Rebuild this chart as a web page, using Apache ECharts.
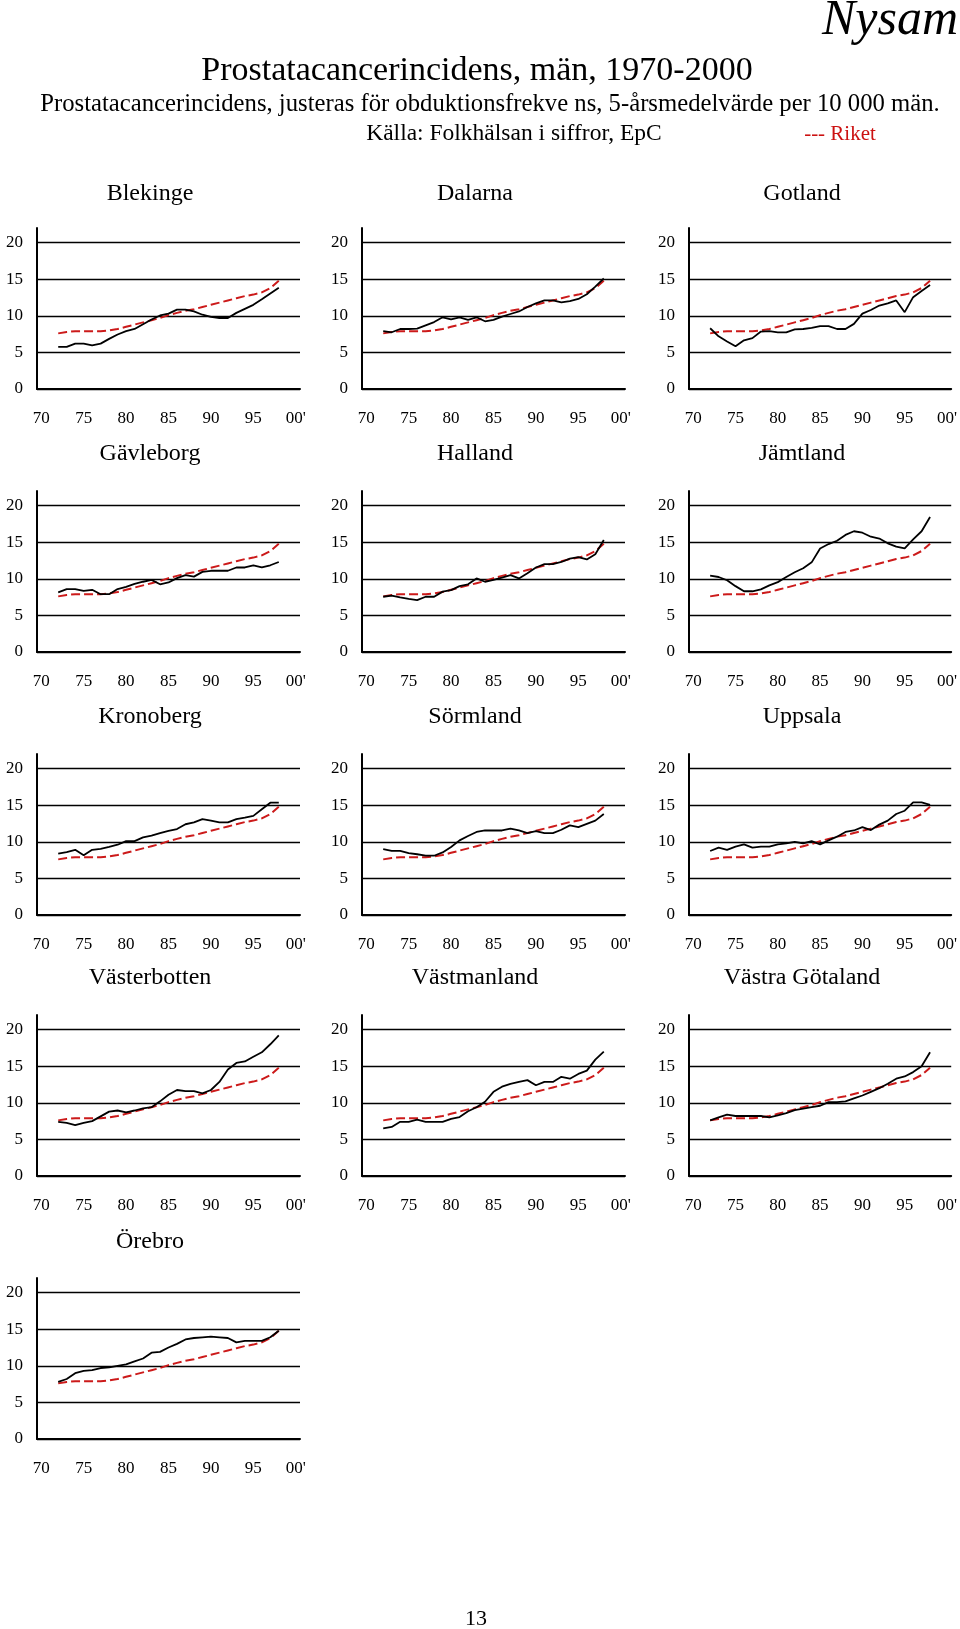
<!DOCTYPE html>
<html>
<head>
<meta charset="utf-8">
<script src="https://cdn.jsdelivr.net/npm/echarts@6/dist/echarts.min.js"></script>
<style>
  html, body { margin: 0; padding: 0; background: #fff; }
  #chart { width: 960px; height: 1629px; }
</style>
</head>
<body>
<div id="chart"></div>
<script>
// ---- Data ----
const categories = ['1970','1971','1972','1973','1974','1975','1976','1977','1978','1979',
  '1980','1981','1982','1983','1984','1985','1986','1987','1988','1989',
  '1990','1991','1992','1993','1994','1995','1996','1997','1998','1999','2000'];
const xTickLabels = ['70','75','80','85','90','95',"00'"];
const yTickValues = [0, 5, 10, 15, 20];
const firstDataYear = '1972';

const panelNames = ['Blekinge','Dalarna','Gotland','Gävleborg','Halland','Jämtland',
  'Kronoberg','Sörmland','Uppsala','Västerbotten','Västmanland','Västra Götaland','Örebro'];

// Riket (national), 1972-1998
const riket = [7.6,7.8,7.9,7.9,7.9,7.9,8.0,8.2,8.5,8.8,9.1,9.4,9.7,10.1,10.4,10.7,10.9,11.2,11.5,11.8,12.1,12.4,12.7,12.9,13.2,13.8,14.8];

// Counties, 1972-1998
const blekinge = [5.75,5.75,6.2,6.2,5.95,6.2,6.85,7.45,7.9,8.2,8.85,9.5,10.05,10.3,10.85,10.85,10.6,10.15,9.85,9.7,9.7,10.4,10.95,11.5,12.25,13.05,13.85];
const dalarna = [7.9,7.75,8.2,8.2,8.25,8.7,9.15,9.8,9.5,9.8,9.45,9.8,9.25,9.45,9.9,10.25,10.6,11.2,11.7,12.1,12.1,11.85,12.0,12.3,12.95,14.0,15.1];
const gotland = [8.3,7.2,6.5,5.85,6.65,6.95,7.85,7.9,7.75,7.75,8.15,8.2,8.35,8.6,8.6,8.2,8.2,8.9,10.3,10.8,11.4,11.7,12.1,10.5,12.55,13.4,14.2];
const gavleborg = [8.15,8.6,8.6,8.35,8.5,7.9,7.9,8.6,8.9,9.3,9.6,9.85,9.25,9.5,10.1,10.5,10.3,10.95,11.1,11.1,11.1,11.55,11.55,11.85,11.55,11.85,12.3];
const halland = [7.55,7.7,7.45,7.25,7.1,7.55,7.55,8.25,8.45,9.0,9.25,10.05,9.6,9.85,10.15,10.5,10.05,10.75,11.55,12.0,12.0,12.3,12.75,12.95,12.65,13.35,15.3];
const jamtland = [10.45,10.25,9.8,9.0,8.3,8.3,8.55,9.1,9.55,10.25,10.9,11.45,12.25,14.15,14.75,15.2,16.0,16.5,16.3,15.75,15.5,14.85,14.4,14.15,15.4,16.5,18.45];
const kronoberg = [8.4,8.6,8.9,8.15,8.9,9.05,9.3,9.6,10.1,10.1,10.6,10.85,11.2,11.5,11.75,12.4,12.65,13.1,12.9,12.65,12.65,13.1,13.3,13.55,14.45,15.35,15.35];
const sormland = [9.0,8.75,8.75,8.45,8.3,8.1,8.1,8.55,9.3,10.2,10.8,11.35,11.55,11.55,11.55,11.8,11.55,11.2,11.45,11.2,11.2,11.65,12.25,12.0,12.45,12.9,13.8];
const uppsala = [8.75,9.2,8.9,9.35,9.65,9.2,9.35,9.35,9.65,9.8,10.0,9.8,10.1,9.65,10.2,10.7,11.35,11.55,12.0,11.6,12.35,12.9,13.8,14.25,15.4,15.4,15.05];
const vasterbotten = [7.4,7.25,6.95,7.25,7.5,8.15,8.8,8.95,8.7,8.95,9.25,9.4,10.2,11.1,11.75,11.6,11.6,11.3,11.75,12.85,14.55,15.45,15.65,16.3,16.9,18.0,19.2];
const vastmanland = [6.5,6.7,7.4,7.4,7.7,7.4,7.4,7.4,7.8,8.05,8.85,9.4,10.15,11.5,12.2,12.6,12.85,13.1,12.4,12.85,12.85,13.55,13.3,13.95,14.4,15.9,17.0];
const vastraGotaland = [7.6,8.0,8.4,8.2,8.2,8.2,8.2,8.0,8.3,8.6,9.0,9.2,9.4,9.6,10.1,10.1,10.2,10.6,11.0,11.5,12.0,12.6,13.3,13.6,14.2,15.0,16.9];
const orebro = [7.8,8.2,9.0,9.3,9.4,9.7,9.8,10.0,10.2,10.6,11.0,11.8,11.9,12.5,13.0,13.6,13.8,13.9,14.0,13.9,13.8,13.2,13.4,13.4,13.4,13.9,14.8];

const countySeries = [blekinge, dalarna, gotland, gavleborg, halland, jamtland,
  kronoberg, sormland, uppsala, vasterbotten, vastmanland, vastraGotaland, orebro];

// ---- Layout ----
const FONT = "'Liberation Serif', 'Times New Roman', serif";
const colLefts = [37, 362, 689];
const rowTops = [228, 491, 754, 1015, 1278];
const titleOffsets = [34, 37, 37, 37, 36];
const gridW = 263, gridH = 161;

function pad(arr) {
  const start = categories.indexOf(firstDataYear);
  return categories.map((c, i) => {
    const k = i - start;
    return (k >= 0 && k < arr.length) ? arr[k] : null;
  });
}

const grids = [], xAxes = [], yAxes = [], series = [], graphics = [];

panelNames.forEach((name, i) => {
  const r = Math.floor(i / 3), c = i % 3;
  const left = colLefts[c], top = rowTops[r];
  grids.push({ left: left, top: top, width: gridW, height: gridH });
  xAxes.push({
    type: 'category', gridIndex: i, data: categories, boundaryGap: true,
    axisLine: { show: true, onZero: true, lineStyle: { color: '#000', width: 2 } },
    axisTick: { show: false },
    axisLabel: {
      interval: 4, margin: 21, color: '#000', fontFamily: FONT, fontSize: 17,
      formatter: (v, idx) => xTickLabels[idx / 5]
    },
    splitLine: { show: false }
  });
  yAxes.push({
    type: 'value', gridIndex: i, min: 0, max: 22,
    axisLine: { show: true, lineStyle: { color: '#000', width: 2 } },
    axisTick: { show: false, customValues: yTickValues },
    axisLabel: { color: '#000', fontFamily: FONT, fontSize: 17, margin: 14, customValues: yTickValues },
    splitLine: { show: true, lineStyle: { color: '#000', width: 1.3 } }
  });
  series.push({
    type: 'line', xAxisIndex: i, yAxisIndex: i, data: pad(riket),
    showSymbol: false, symbol: 'none', silent: true, z: 2,
    lineStyle: { color: '#cc1a1a', width: 2, type: [9, 4] }
  });
  series.push({
    type: 'line', xAxisIndex: i, yAxisIndex: i, data: pad(countySeries[i]),
    showSymbol: false, symbol: 'none', silent: true, z: 3,
    lineStyle: { color: '#000', width: 1.8 }
  });
  graphics.push({
    type: 'text', x: left + 113, y: top - titleOffsets[r],
    style: { text: name, fill: '#000', font: '24px ' + FONT, textAlign: 'center', textVerticalAlign: 'middle' }
  });
});

graphics.push(
  { type: 'text', x: 958, y: 21, style: { text: 'Nysam', fill: '#000', font: 'italic 50px ' + FONT, textAlign: 'right', textVerticalAlign: 'middle' } },
  { type: 'text', x: 477, y: 71, style: { text: 'Prostatacancerincidens, män, 1970-2000', fill: '#000', font: '34px ' + FONT, textAlign: 'center', textVerticalAlign: 'middle' } },
  { type: 'text', x: 490, y: 105, style: { text: 'Prostatacancerincidens, justeras för obduktionsfrekve ns, 5-årsmedelvärde per 10 000 män.', fill: '#000', font: '24.7px ' + FONT, textAlign: 'center', textVerticalAlign: 'middle' } },
  { type: 'text', x: 514, y: 134, style: { text: 'Källa: Folkhälsan i siffror, EpC', fill: '#000', font: '23.5px ' + FONT, textAlign: 'center', textVerticalAlign: 'middle' } },
  { type: 'text', x: 840, y: 134, style: { text: '--- Riket', fill: '#cc1111', font: '21px ' + FONT, textAlign: 'center', textVerticalAlign: 'middle' } },
  { type: 'text', x: 476, y: 1619, style: { text: '13', fill: '#000', font: '22px ' + FONT, textAlign: 'center', textVerticalAlign: 'middle' } }
);

const chart = echarts.init(document.getElementById('chart'), null, { renderer: 'canvas' });
chart.setOption({
  animation: false,
  backgroundColor: '#fff',
  grid: grids, xAxis: xAxes, yAxis: yAxes, series: series,
  graphic: graphics
});
</script>
</body>
</html>
